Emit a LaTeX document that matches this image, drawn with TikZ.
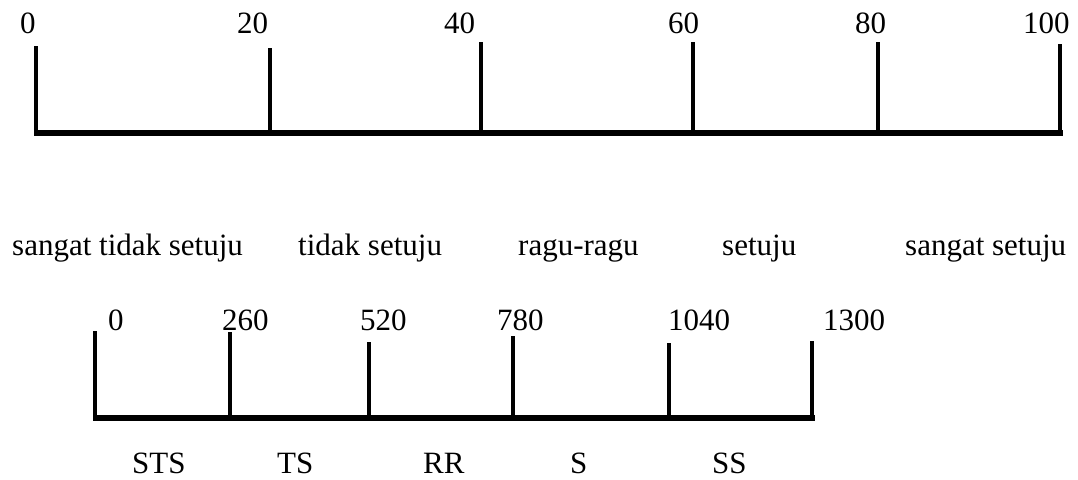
\documentclass[tikz,border=0pt]{standalone}
\usepackage{fontspec}
\setmainfont{Liberation Serif}
\begin{document}
\begin{tikzpicture}[x=1pt,y=-1pt,
  lbl/.style={anchor=base west,inner sep=0pt,font=\fontsize{31}{31}\selectfont},
  axisline/.style={line width=6pt},
  tickline/.style={line width=4pt}]
\useasboundingbox (0,0) rectangle (1078,479);
% top scale
\coordinate (ta) at (34,133);
\coordinate (tb) at (1063,133);
\draw[axisline] (ta) -- (tb);
\foreach \x/\t in {36/46,270/48,481/42,693/42,878/42,1060/44}{
  \draw[tickline] (\x,\t) -- (\x,131);
}
\node[lbl] (t0) at (20,33) {0};
\node[lbl] (t20) at (237,33) {20};
\node[lbl] (t40) at (444,33) {40};
\node[lbl] (t60) at (668,33) {60};
\node[lbl] (t80) at (855,33) {80};
\node[lbl] (t100) at (1023,33) {100};
% middle labels
\node[lbl] (m1) at (12,255) {sangat tidak setuju};
\node[lbl] (m2) at (298,255) {tidak setuju};
\node[lbl] (m3) at (518,255) {ragu-ragu};
\node[lbl] (m4) at (722,255) {setuju};
\node[lbl] (m5) at (905,255) {sangat setuju};
% bottom scale
\coordinate (ba) at (93,418);
\coordinate (bb) at (815,418);
\draw[axisline] (ba) -- (bb);
\foreach \x/\t in {95/331,230/332,369/342,513/336,669/343,812/341}{
  \draw[tickline] (\x,\t) -- (\x,416);
}
\node[lbl] (b0) at (108,330) {0};
\node[lbl] (b260) at (222,330) {260};
\node[lbl] (b520) at (360,330) {520};
\node[lbl] (b780) at (497,330) {780};
\node[lbl] (b1040) at (668,330) {1040};
\node[lbl] (b1300) at (823,330) {1300};
\node[lbl,text depth=0pt] (sts) at (132,473) {STS};
\node[lbl,text depth=0pt] (ts) at (277,473) {TS};
\node[lbl,text depth=0pt] (rr) at (423,473) {RR};
\node[lbl,text depth=0pt] (s) at (570,473) {S};
\node[lbl,text depth=0pt] (ss) at (712,473) {SS};
\end{tikzpicture}
\end{document}
